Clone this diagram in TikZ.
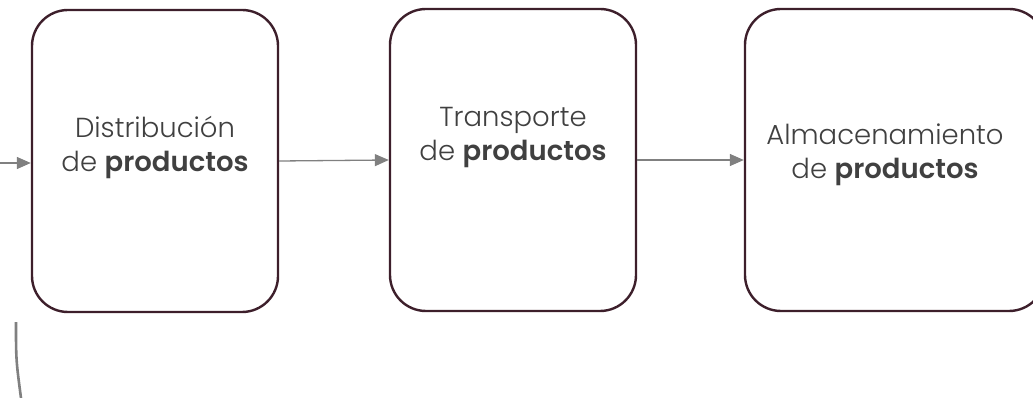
\documentclass[tikz,border=0pt]{standalone}
\usepackage{fontspec}
\setmainfont{Poppins}[UprightFont=* Light, BoldFont=* SemiBold]
\usetikzlibrary{arrows.meta,positioning}

\definecolor{boxline}{HTML}{3D1F2B}
\definecolor{flowgray}{HTML}{808080}
\definecolor{textgray}{HTML}{404040}

\tikzset{
  stagebox/.style={draw=boxline, line width=2.4pt, rounded corners=36pt,
    minimum width=246pt, minimum height=302pt, inner sep=0pt},
  stagetext/.style={text=textgray, font=\fontsize{27.5}{34}\selectfont, align=center},
  flow/.style={draw=flowgray, line width=1.3pt, -{Triangle[length=14pt,width=12pt]}}
}

\begin{document}
\begin{tikzpicture}[x=1pt, y=-1pt]
  \useasboundingbox (0, 0) rectangle (1033, 398);

  % the three stages
  \node[stagebox] (dist) at (155, 161) {};
  \node[stagebox] (trans) at (513, 160) {};
  \node[stagebox, minimum width=300pt] (alm) at (895, 160) {};

  \node[stagetext] (disttxt) at ([yshift=14pt]dist.center) {Distribución\\de \textbf{productos}};
  \node[stagetext] (transtxt) at ([yshift=22pt]trans.center) {Transporte\\de \textbf{productos}};
  \node[stagetext] (almtxt) at ([xshift=-10pt, yshift=5pt]alm.center) {Almacenamiento\\de \textbf{productos}};

  % connectors
  \coordinate (inflow) at (0, 163);
  \draw[flow] (inflow) -- (dist.west |- inflow);
  \draw[flow] (dist.east) -- (trans.west);
  \draw[flow] (trans.east) -- (alm.west);

  \coordinate (backtop) at (16, 322);
  \coordinate (backend) at (21, 398);
  \draw[flowgray, line width=2.6pt] (backtop) .. controls (16, 360) .. (backend);
\end{tikzpicture}
\end{document}
